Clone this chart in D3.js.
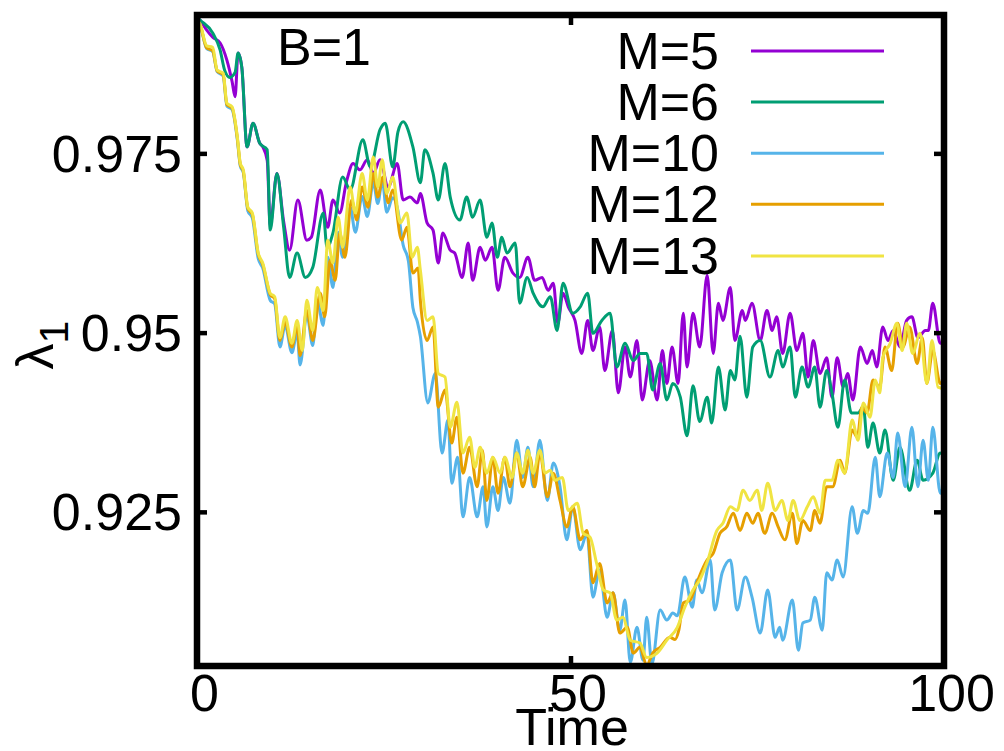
<!DOCTYPE html>
<html>
<head>
<meta charset="utf-8">
<script src="https://cdn.jsdelivr.net/npm/d3@7"></script>
<style>
  html, body { margin: 0; padding: 0; background: #fff; }
  svg { display: block; font-family: "Liberation Sans", Arial, Helvetica, sans-serif; }
</style>
</head>
<body>
<svg id="chart" width="1004" height="751"></svg>
<script>
// ---- data (time, lambda_1) ----
const seriesNames = ["M=5", "M=6", "M=10", "M=12", "M=13"];
const xTicks = [0, 50, 100];
const yTicks = [0.925, 0.95, 0.975];
const annotation = "B=1";

const m5 = [[0,0.9940],[0.4,0.9936],[1.3,0.9922],[2.1,0.9912],[3.1,0.9904],[4.0,0.9880],[4.7,0.9850],[5.1,0.9829],[5.5,0.9890],[6.0,0.9870],[6.7,0.9759],[7.5,0.9792],[8.4,0.9764],[8.8,0.9759],[9.4,0.9740],[9.8,0.9650],[10.7,0.9722],[11.6,0.9655],[12.4,0.9615],[13.5,0.9685],[14.7,0.9629],[15.3,0.9633],[16.5,0.9699],[17.5,0.9647],[18.2,0.9685],[19.1,0.9667],[20.0,0.9710],[20.9,0.9736],[21.8,0.9727],[22.8,0.9741],[23.6,0.9722],[24.5,0.9741],[25.6,0.9703],[26.8,0.9736],[27.6,0.9685],[28.5,0.9689],[29.5,0.9681],[29.9,0.9694],[30.8,0.9653],[31.6,0.9643],[32.3,0.9597],[32.9,0.9639],[33.9,0.9615],[34.5,0.9611],[35.5,0.9577],[36.3,0.9625],[36.9,0.9573],[37.9,0.9619],[38.6,0.9601],[39.5,0.9619],[40.3,0.9559],[41.2,0.9605],[42.3,0.9583],[43.2,0.9577],[44.3,0.9605],[45.2,0.9573],[46.2,0.9577],[47.0,0.9559],[47.7,0.9569],[48.3,0.9513],[49.0,0.9555],[49.7,0.9536],[50.6,0.9517],[51.5,0.9471],[52.3,0.9517],[53.0,0.9475],[53.9,0.9508],[54.6,0.9447],[55.6,0.9503],[56.4,0.9416],[57.3,0.9480],[58.0,0.9438],[58.9,0.9489],[59.6,0.9406],[60.6,0.9461],[61.6,0.9406],[62.3,0.9475],[62.9,0.9429],[63.6,0.9480],[64.4,0.9429],[65.1,0.9527],[65.6,0.9452],[66.4,0.9527],[67.3,0.9480],[68.3,0.9580],[69.1,0.9471],[69.8,0.9541],[70.4,0.9517],[71.4,0.9563],[72.0,0.9489],[73.0,0.9531],[73.4,0.9517],[74.3,0.9541],[75.4,0.9489],[76.3,0.9531],[77.0,0.9503],[77.6,0.9522],[78.4,0.9471],[79.4,0.9527],[80.3,0.9475],[81.1,0.9499],[81.8,0.9438],[82.5,0.9489],[83.4,0.9443],[84.3,0.9465],[85.0,0.9410],[85.7,0.9465],[86.5,0.9424],[87.1,0.9443],[87.8,0.9406],[88.8,0.9480],[89.7,0.9457],[90.4,0.9475],[91.0,0.9452],[91.8,0.9508],[92.5,0.9489],[93.2,0.9503],[94.1,0.9480],[95.0,0.9517],[95.7,0.9522],[96.5,0.9493],[97.5,0.9503],[97.9,0.9503],[98.5,0.9541],[99.5,0.9485],[100,0.9485]];

const m6 = [[0,0.9940],[0.4,0.9936],[2.1,0.9918],[3.1,0.9894],[3.7,0.9866],[4.4,0.9856],[5.1,0.9863],[5.5,0.9890],[6.0,0.9870],[6.7,0.9759],[7.5,0.9792],[8.4,0.9764],[9.4,0.9755],[9.8,0.9643],[10.7,0.9722],[11.6,0.9647],[12.4,0.9577],[13.4,0.9611],[14.5,0.9577],[15.5,0.9591],[16.9,0.9667],[17.4,0.9619],[18.2,0.9639],[19.5,0.9717],[20.5,0.9699],[22.2,0.9769],[23.2,0.9731],[24.5,0.9783],[25.2,0.9792],[26.2,0.9731],[26.9,0.9780],[27.6,0.9794],[28.9,0.9759],[29.9,0.9709],[30.5,0.9755],[31.6,0.9722],[32.3,0.9685],[33.2,0.9736],[33.9,0.9689],[35.2,0.9657],[36.1,0.9689],[36.9,0.9661],[37.9,0.9685],[38.8,0.9633],[39.5,0.9653],[40.2,0.9605],[40.8,0.9633],[41.5,0.9611],[42.6,0.9625],[43.2,0.9541],[44.2,0.9577],[45.0,0.9555],[46.3,0.9536],[47.3,0.9550],[48.2,0.9503],[49.0,0.9569],[50.3,0.9527],[51.3,0.9536],[52.3,0.9555],[53.0,0.9499],[54.2,0.9517],[55.3,0.9527],[56.2,0.9452],[57.3,0.9485],[58.4,0.9461],[59.3,0.9471],[60.2,0.9471],[61.0,0.9420],[62.0,0.9457],[62.9,0.9406],[63.7,0.9429],[64.7,0.9410],[65.6,0.9356],[66.4,0.9426],[67.3,0.9376],[68.3,0.9410],[68.9,0.9374],[69.8,0.9452],[70.7,0.9392],[71.4,0.9447],[72.0,0.9434],[72.7,0.9495],[73.6,0.9410],[74.4,0.9480],[75.4,0.9489],[76.7,0.9438],[77.8,0.9475],[78.4,0.9452],[79.4,0.9480],[80.1,0.9410],[81.0,0.9452],[81.8,0.9424],[82.7,0.9452],[83.4,0.9396],[84.3,0.9447],[85.0,0.9416],[85.8,0.9368],[86.7,0.9434],[87.6,0.9388],[88.5,0.9388],[89.2,0.9396],[89.8,0.9340],[90.5,0.9374],[91.4,0.9332],[92.1,0.9364],[93.2,0.9294],[94.1,0.9340],[95.4,0.9280],[96.4,0.9322],[97.2,0.9294],[98.5,0.9304],[99.5,0.9332],[100,0.9326]];

const m10 = [[0,0.9934],[0.4,0.9929],[1.3,0.9896],[2.1,0.9892],[2.7,0.9864],[3.5,0.9858],[4.0,0.9816],[4.7,0.9811],[5.4,0.9769],[5.8,0.9732],[6.2,0.9723],[6.8,0.9670],[7.4,0.9660],[8.2,0.9603],[8.8,0.9590],[9.8,0.9545],[10.4,0.9540],[11.1,0.9480],[11.8,0.9510],[12.7,0.9472],[13.4,0.9500],[13.8,0.9455],[14.7,0.9525],[15.5,0.9482],[16.1,0.9545],[16.9,0.9510],[17.5,0.9605],[18.2,0.9563],[18.9,0.9640],[19.5,0.9605],[20.5,0.9675],[21.2,0.9640],[22.1,0.9690],[22.8,0.9662],[23.6,0.9710],[24.2,0.9680],[24.8,0.9712],[25.4,0.9668],[26.2,0.9688],[26.8,0.9675],[27.6,0.9622],[28.3,0.9600],[28.9,0.9535],[29.5,0.9515],[29.9,0.9495],[30.9,0.9402],[31.9,0.9443],[32.8,0.9332],[33.6,0.9378],[34.1,0.9290],[34.9,0.9326],[35.6,0.9243],[36.5,0.9298],[37.5,0.9243],[38.3,0.9285],[38.8,0.9229],[39.6,0.9285],[40.3,0.9252],[41.0,0.9298],[41.9,0.9262],[42.8,0.9350],[43.6,0.9298],[44.3,0.9340],[45.0,0.9285],[45.9,0.9350],[46.9,0.9266],[47.7,0.9318],[48.6,0.9285],[49.5,0.9211],[50.3,0.9257],[51.3,0.9197],[52.2,0.9220],[53.0,0.9131],[53.9,0.9169],[54.9,0.9103],[55.7,0.9137],[56.6,0.9085],[57.3,0.9127],[58.0,0.9040],[58.9,0.9089],[59.7,0.9043],[60.2,0.9103],[60.9,0.9038],[62.0,0.9113],[62.9,0.9099],[63.7,0.9109],[64.3,0.9105],[65.3,0.9159],[66.3,0.9117],[66.9,0.9155],[67.6,0.9137],[68.7,0.9183],[69.3,0.9113],[70.3,0.9165],[71.4,0.9183],[72.3,0.9113],[73.4,0.9159],[74.3,0.9131],[75.4,0.9081],[76.4,0.9141],[77.4,0.9075],[78.0,0.9089],[78.4,0.9071],[79.7,0.9127],[80.5,0.9057],[81.1,0.9095],[82.1,0.9099],[82.7,0.9131],[83.7,0.9085],[84.3,0.9165],[85.0,0.9155],[85.7,0.9183],[86.5,0.9159],[87.7,0.9257],[88.4,0.9220],[89.2,0.9252],[89.8,0.9248],[90.8,0.9326],[91.4,0.9271],[92.4,0.9332],[93.2,0.9298],[93.8,0.9360],[94.8,0.9285],[95.7,0.9368],[96.5,0.9285],[97.2,0.9350],[97.9,0.9294],[98.5,0.9368],[99.5,0.9276],[100,0.9290]];

const m12 = [[0,0.9934],[0.4,0.9929],[1.3,0.9897],[2.1,0.9893],[2.7,0.9865],[3.5,0.9860],[4.0,0.9818],[4.7,0.9813],[5.4,0.9771],[5.8,0.9734],[6.2,0.9725],[6.8,0.9673],[7.4,0.9665],[8.2,0.9609],[8.8,0.9595],[9.8,0.9553],[10.4,0.9547],[11.1,0.9489],[11.8,0.9515],[12.7,0.9480],[13.4,0.9510],[13.8,0.9468],[14.7,0.9531],[15.5,0.9489],[16.5,0.9555],[17.1,0.9522],[17.8,0.9601],[18.5,0.9573],[19.1,0.9639],[19.8,0.9605],[20.7,0.9685],[21.4,0.9657],[22.1,0.9703],[22.9,0.9675],[23.6,0.9722],[24.2,0.9689],[24.9,0.9717],[25.6,0.9681],[26.2,0.9699],[27.4,0.9629],[28.1,0.9647],[28.9,0.9583],[29.6,0.9590],[29.9,0.9545],[30.8,0.9489],[31.6,0.9508],[32.3,0.9396],[33.2,0.9420],[34.1,0.9346],[34.8,0.9382],[35.6,0.9304],[36.5,0.9340],[37.5,0.9285],[38.2,0.9336],[38.8,0.9266],[39.6,0.9326],[40.3,0.9276],[41.2,0.9326],[41.9,0.9285],[42.8,0.9332],[43.6,0.9285],[44.6,0.9326],[45.2,0.9285],[45.9,0.9332],[46.9,0.9271],[47.7,0.9304],[48.6,0.9266],[49.5,0.9229],[50.3,0.9257],[51.3,0.9211],[52.2,0.9224],[53.0,0.9151],[53.9,0.9178],[54.9,0.9123],[55.7,0.9137],[56.6,0.9081],[57.6,0.9089],[58.4,0.9053],[59.3,0.9061],[60.2,0.9036],[61.0,0.9053],[62.0,0.9061],[63.3,0.9075],[64.0,0.9072],[64.5,0.9085],[65.1,0.9123],[66.0,0.9127],[66.9,0.9151],[68.3,0.9183],[69.1,0.9192],[70.0,0.9220],[70.9,0.9229],[71.8,0.9248],[72.7,0.9224],[73.6,0.9248],[74.4,0.9234],[75.1,0.9248],[76.0,0.9220],[77.0,0.9248],[77.8,0.9229],[78.7,0.9211],[79.7,0.9248],[80.3,0.9206],[81.1,0.9238],[82.1,0.9224],[82.7,0.9252],[83.4,0.9234],[84.3,0.9285],[85.1,0.9285],[86.1,0.9322],[86.7,0.9304],[87.7,0.9364],[88.4,0.9354],[89.0,0.9396],[89.7,0.9388],[90.5,0.9434],[91.4,0.9424],[92.1,0.9480],[93.0,0.9447],[93.8,0.9513],[94.5,0.9480],[95.4,0.9508],[96.4,0.9457],[97.1,0.9493],[97.7,0.9429],[98.5,0.9475],[99.5,0.9429],[100,0.9434]];

const m13 = [[0,0.9936],[0.4,0.9931],[1.3,0.9900],[2.1,0.9898],[2.7,0.9866],[3.5,0.9862],[4.0,0.9820],[4.7,0.9815],[5.4,0.9773],[5.8,0.9736],[6.2,0.9727],[6.8,0.9675],[7.4,0.9667],[8.2,0.9611],[8.8,0.9597],[9.8,0.9555],[10.4,0.9550],[11.1,0.9493],[11.8,0.9522],[12.7,0.9485],[13.4,0.9517],[14.1,0.9475],[14.7,0.9545],[15.5,0.9503],[16.1,0.9563],[16.9,0.9531],[17.5,0.9629],[18.2,0.9597],[18.9,0.9661],[19.5,0.9619],[20.5,0.9703],[21.2,0.9667],[22.1,0.9722],[22.8,0.9685],[23.6,0.9745],[24.2,0.9703],[24.8,0.9741],[25.4,0.9694],[26.2,0.9717],[27.2,0.9653],[28.1,0.9667],[28.8,0.9605],[29.5,0.9619],[29.9,0.9587],[30.8,0.9517],[31.6,0.9522],[32.3,0.9443],[33.2,0.9438],[33.9,0.9368],[34.8,0.9403],[35.6,0.9332],[36.5,0.9354],[37.2,0.9312],[37.9,0.9340],[38.8,0.9304],[39.6,0.9326],[40.6,0.9304],[41.2,0.9326],[42.2,0.9298],[42.8,0.9332],[43.6,0.9304],[44.3,0.9336],[45.0,0.9304],[45.9,0.9336],[46.6,0.9304],[47.3,0.9308],[47.9,0.9294],[48.9,0.9298],[49.7,0.9252],[50.9,0.9262],[51.7,0.9220],[52.6,0.9215],[53.5,0.9178],[54.4,0.9141],[55.3,0.9137],[56.2,0.9099],[57.0,0.9103],[58.0,0.9071],[59.3,0.9067],[60.2,0.9047],[61.6,0.9053],[62.9,0.9071],[64.3,0.9089],[65.3,0.9117],[66.4,0.9141],[67.3,0.9155],[68.3,0.9180],[69.6,0.9224],[70.4,0.9234],[71.4,0.9257],[72.3,0.9252],[73.1,0.9280],[74.0,0.9266],[75.0,0.9280],[75.6,0.9252],[76.4,0.9290],[77.4,0.9252],[78.3,0.9266],[79.1,0.9238],[79.8,0.9266],[80.7,0.9238],[81.7,0.9257],[82.5,0.9271],[83.4,0.9248],[84.1,0.9294],[85.0,0.9294],[85.8,0.9322],[86.7,0.9304],[87.7,0.9378],[88.5,0.9350],[89.2,0.9402],[90.1,0.9382],[90.8,0.9434],[91.4,0.9416],[91.8,0.9465],[92.8,0.9485],[93.7,0.9513],[94.4,0.9475],[95.0,0.9513],[95.8,0.9471],[96.8,0.9499],[97.7,0.9429],[98.4,0.9489],[99.2,0.9424],[100,0.9422]];

const seriesData = [m5, m6, m10, m12, m13];
const colors = ["#9400d3", "#009e73", "#56b4e9", "#e69f00", "#f0e442"];

// ---- layout ----
const L = 197, R = 944, T = 15, B = 666;
const FS = 52;

const svg = d3.select("#chart");
svg.append("rect").attr("width", 1004).attr("height", 751).attr("fill", "#fff");

const x = d3.scaleLinear().domain([0, 100]).range([L, R]);
const y = d3.scaleLinear().domain([0.9035, 0.9943]).range([B, T]);

svg.append("defs").append("clipPath").attr("id", "plotclip")
  .append("rect").attr("x", L).attr("y", T).attr("width", R - L).attr("height", B - T);

// data lines
const line = d3.line().x(d => x(d[0])).y(d => y(d[1])).curve(d3.curveMonotoneX);
const gLines = svg.append("g").attr("clip-path", "url(#plotclip)");
seriesData.forEach((s, i) => {
  gLines.append("path")
    .datum(s)
    .attr("d", line)
    .attr("fill", "none")
    .attr("stroke", colors[i])
    .attr("stroke-width", 3)
    .attr("stroke-linejoin", "round");
});

// axes (inward ticks, mirrored)
function styleAxis(g) {
  g.select(".domain").remove();
  g.selectAll(".tick line").attr("stroke", "#000").attr("stroke-width", 4.5);
  g.selectAll(".tick text").attr("fill", "#000")
    .attr("font-size", FS).attr("font-family", "'Liberation Sans', Arial, sans-serif");
}

svg.append("g").attr("transform", `translate(${L},0)`)
  .call(d3.axisLeft(y).tickValues(yTicks).tickSize(-10).tickPadding(15).tickFormat(d3.format("")))
  .call(styleAxis)
  .call(g => g.selectAll(".tick text").attr("dy", "0.34em"));

svg.append("g").attr("transform", `translate(${R},0)`)
  .call(d3.axisRight(y).tickValues(yTicks).tickSize(-10).tickFormat(""))
  .call(styleAxis);

svg.append("g").attr("transform", `translate(0,${B})`)
  .call(d3.axisBottom(x).tickValues(xTicks).tickSize(-10).tickPadding(8).tickFormat(d3.format("d")))
  .call(styleAxis)
  .call(g => g.selectAll(".tick text").attr("x", 7));

svg.append("g").attr("transform", `translate(0,${T})`)
  .call(d3.axisTop(x).tickValues(xTicks).tickSize(-10).tickFormat(""))
  .call(styleAxis);

// frame
svg.append("rect")
  .attr("x", L).attr("y", T).attr("width", R - L).attr("height", B - T)
  .attr("fill", "none").attr("stroke", "#000").attr("stroke-width", 6.5);

// axis titles
svg.append("text")
  .attr("x", 572).attr("y", 745)
  .attr("text-anchor", "middle").attr("font-size", FS)
  .text("Time");

const yl = svg.append("text")
  .attr("transform", "translate(53,345) rotate(-90)")
  .attr("text-anchor", "middle").attr("font-size", FS);
yl.append("tspan").text("λ");
yl.append("tspan").attr("dy", 15).attr("font-size", 41).text("1");

// annotation
svg.append("text")
  .attr("x", 277).attr("y", 65)
  .attr("font-size", FS)
  .text(annotation);

// legend
const legY = [51, 102, 153.3, 204.3, 256];
seriesNames.forEach((name, i) => {
  svg.append("text")
    .attr("x", 719).attr("y", legY[i] + 17.5)
    .attr("text-anchor", "end").attr("font-size", FS)
    .text(name);
  svg.append("line")
    .attr("x1", 751).attr("x2", 884)
    .attr("y1", legY[i]).attr("y2", legY[i])
    .attr("stroke", colors[i]).attr("stroke-width", 3);
});
</script>
</body>
</html>
